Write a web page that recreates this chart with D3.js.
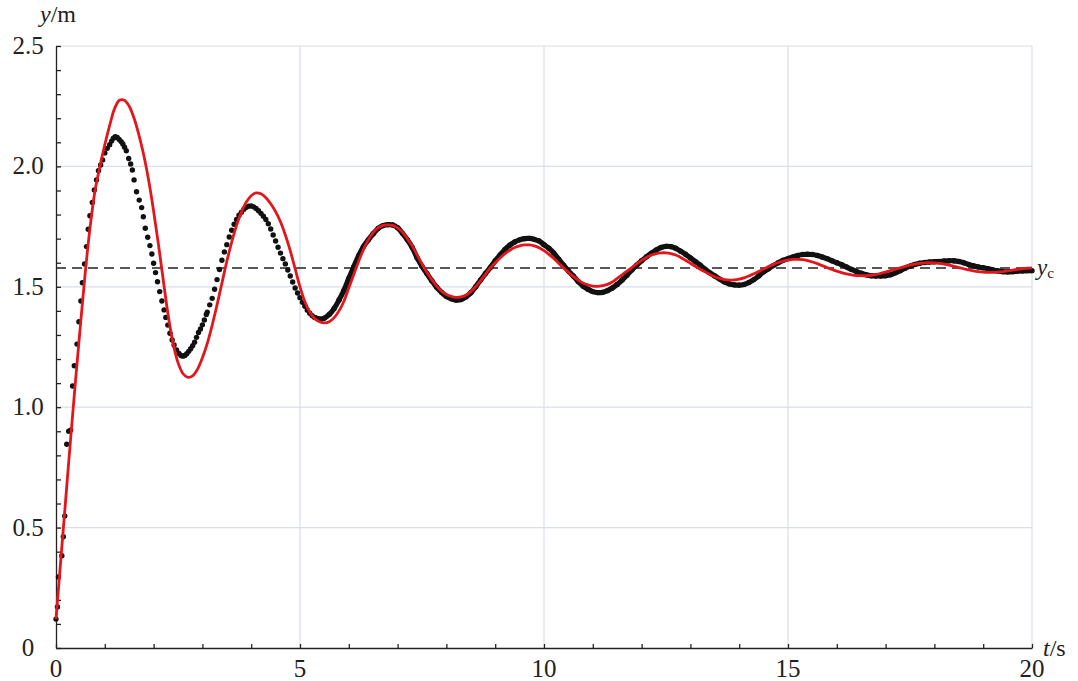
<!DOCTYPE html>
<html>
  <head>
    <meta charset="utf-8">
    <title>Damped oscillation: measured vs model</title>
    <script src="https://d3js.org/d3.v7.min.js"></script>
    <style>
      body { margin: 0; background: #fff; }
      text { font-family: "Liberation Serif", "Times New Roman", serif; fill: #222; }
      .grid line { stroke: #d9dee7; stroke-width: 1.2; }
      .axis path, .axis line { stroke: #222; stroke-width: 1.3; }
    </style>
  </head>
  <body>
    <div id="chart"></div>
    <script>
      // tick labels
      var xTickLabels = [0, 5, 10, 15, 20];
      var yTickLabels = ["0", "0.5", "1.0", "1.5", "2.0", "2.5"];
      var yTickValues = [0, 0.5, 1.0, 1.5, 2.0, 2.5];

      // equilibrium level y_c
      var yc = 1.578;

      // measured points, sparse part (time in s, height in m)
      var dotTimes = [0.00, 0.03, 0.05, 0.12, 0.15, 0.18, 0.22, 0.26, 0.30, 0.34, 0.375, 0.43, 0.47, 0.51,
        0.54, 0.585, 0.625, 0.66, 0.695, 0.745, 0.785, 0.83, 0.87, 0.915, 0.955, 1.0, 1.05, 1.10, 1.14,
        1.175, 1.215, 1.255, 1.295, 1.335, 1.37, 1.405, 1.44, 1.49, 1.53, 1.565, 1.60, 1.65, 1.705, 1.755,
        1.79, 1.83, 1.88, 1.925, 1.965, 2.0, 2.04, 2.08, 2.125, 2.17, 2.215, 2.25, 2.29, 2.335, 2.38, 2.42,
        2.47, 2.52, 2.56, 2.60, 2.64, 2.68, 2.72, 2.76, 2.80, 2.84, 2.88, 2.92, 2.96, 3.0, 3.04, 3.08,
        3.10, 3.15, 3.20, 3.25, 3.30, 3.35, 3.40, 3.45, 3.50, 3.55, 3.60, 3.65, 3.70, 3.75, 3.80, 3.85,
        3.90, 3.95, 4.00, 4.05, 4.10, 4.15, 4.20, 4.25, 4.30, 4.35, 4.40, 4.45, 4.50, 4.55, 4.60, 4.65,
        4.70, 4.75, 4.80, 4.85, 4.90, 4.95, 5.00, 5.05, 5.10, 5.15, 5.20, 5.25];
      var dotValues = [0.12, 0.17, 0.295, 0.383, 0.462, 0.548, 0.846, 0.90, 0.905, 1.088, 1.172, 1.262, 1.355, 1.441,
        1.517, 1.595, 1.667, 1.739, 1.795, 1.85, 1.902, 1.944, 1.982, 2.006, 2.027, 2.056, 2.075, 2.09, 2.105,
        2.117, 2.123, 2.12, 2.112, 2.103, 2.093, 2.08, 2.065, 2.033, 2.01, 1.985, 1.944, 1.895, 1.86, 1.829,
        1.791, 1.743, 1.706, 1.671, 1.636, 1.598, 1.559, 1.521, 1.48, 1.441, 1.404, 1.373, 1.341, 1.307, 1.279, 1.258,
        1.238, 1.223, 1.215, 1.212, 1.215, 1.222, 1.232, 1.243, 1.255, 1.27, 1.29, 1.31, 1.325, 1.342, 1.362, 1.385,
        1.395, 1.425, 1.452, 1.49, 1.53, 1.572, 1.61, 1.645, 1.675, 1.707, 1.735, 1.76, 1.78, 1.797, 1.81, 1.822,
        1.83, 1.835, 1.836, 1.832, 1.825, 1.816, 1.805, 1.793, 1.78, 1.762, 1.74, 1.715, 1.69, 1.664, 1.64, 1.617,
        1.595, 1.57, 1.545, 1.52, 1.495, 1.474, 1.455, 1.436, 1.419, 1.403, 1.39, 1.38];

      // measured points, dense part: from 5.3 s every 0.1 s
      var trackStart = 5.3, trackStep = 0.1;
      var trackValues = [1.373, 1.366, 1.37, 1.385, 1.41, 1.445, 1.485, 1.535, 1.582, 1.628, 1.667,
        1.695, 1.72, 1.742, 1.754, 1.758, 1.757, 1.745, 1.722, 1.695, 1.663, 1.62, 1.585, 1.555, 1.525,
        1.498, 1.477, 1.46, 1.45, 1.445, 1.447, 1.458, 1.475, 1.5, 1.528, 1.555, 1.58, 1.608, 1.632,
        1.655, 1.673, 1.686, 1.695, 1.7, 1.701, 1.697, 1.69, 1.675, 1.66, 1.64, 1.615, 1.59, 1.566,
        1.545, 1.522, 1.503, 1.49, 1.48, 1.476, 1.477, 1.484, 1.495, 1.51, 1.528, 1.548, 1.57, 1.59,
        1.608, 1.625, 1.64, 1.653, 1.663, 1.668, 1.667, 1.66, 1.648, 1.635, 1.62, 1.605, 1.59, 1.573,
        1.558, 1.545, 1.532, 1.52, 1.512, 1.508, 1.507, 1.51, 1.518, 1.53, 1.545, 1.562, 1.575, 1.588,
        1.6, 1.61, 1.617, 1.624, 1.63, 1.634, 1.635, 1.634, 1.63, 1.624, 1.617, 1.608, 1.6, 1.592,
        1.582, 1.572, 1.564, 1.556, 1.55, 1.546, 1.545, 1.545, 1.546, 1.55, 1.558, 1.567, 1.577, 1.586,
        1.593, 1.598, 1.601, 1.603, 1.604, 1.605, 1.607, 1.608, 1.608, 1.605, 1.6, 1.593, 1.587, 1.582,
        1.579, 1.575, 1.57, 1.566, 1.563, 1.562, 1.563, 1.565, 1.566, 1.567, 1.567];

      // model curve: from 0 s every 0.1 s
      var modelStep = 0.1;
      var modelValues = [0.12, 0.37, 0.62, 0.87, 1.11, 1.34, 1.56, 1.75, 1.90, 2.00, 2.09, 2.17, 2.24,
        2.275, 2.275, 2.25, 2.20, 2.13, 2.045, 1.94, 1.815, 1.675, 1.525, 1.38, 1.265, 1.185, 1.14, 1.124,
        1.13, 1.158, 1.205, 1.265, 1.34, 1.425, 1.515, 1.605, 1.685, 1.755, 1.81, 1.852, 1.878, 1.89, 1.886,
        1.87, 1.845, 1.812, 1.77, 1.715, 1.65, 1.575, 1.5, 1.438, 1.395, 1.368, 1.355, 1.35, 1.355,
        1.372, 1.40, 1.44, 1.495, 1.55, 1.605, 1.655, 1.695, 1.725, 1.745, 1.755, 1.757, 1.755, 1.745,
        1.727, 1.70, 1.67, 1.632, 1.595, 1.56, 1.53, 1.503, 1.482, 1.468, 1.46, 1.456, 1.458, 1.465,
        1.48, 1.50, 1.525, 1.552, 1.578, 1.60, 1.62, 1.638, 1.652, 1.663, 1.67, 1.674, 1.674, 1.67,
        1.662, 1.65, 1.635, 1.618, 1.598, 1.578, 1.56, 1.543, 1.528, 1.516, 1.508, 1.503, 1.502, 1.505,
        1.51, 1.52, 1.535, 1.55, 1.565, 1.58, 1.595, 1.61, 1.622, 1.632, 1.638, 1.641, 1.641, 1.638,
        1.632, 1.622, 1.61, 1.598, 1.585, 1.573, 1.562, 1.551, 1.542, 1.535, 1.53, 1.528, 1.529, 1.532,
        1.537, 1.545, 1.554, 1.564, 1.574, 1.584, 1.593, 1.601, 1.607, 1.611, 1.614, 1.614, 1.613,
        1.609, 1.603, 1.596, 1.588, 1.58, 1.572, 1.565, 1.559, 1.554, 1.55, 1.547, 1.546, 1.546, 1.548,
        1.551, 1.556, 1.561, 1.567, 1.573, 1.579, 1.585, 1.59, 1.594, 1.597, 1.599, 1.6, 1.599, 1.597,
        1.594, 1.59, 1.585, 1.58, 1.575, 1.57, 1.566, 1.563, 1.561, 1.56, 1.56, 1.561, 1.563, 1.566,
        1.569, 1.572, 1.575, 1.577, 1.579];

      var width = 1078, height = 681;
      var x = d3.scaleLinear().domain([0, 20]).range([56, 1032]);
      var y = d3.scaleLinear().domain([0, 2.5]).range([648, 46]);

      var svg = d3.select("#chart").append("svg")
        .attr("width", width)
        .attr("height", height);

      // grid lines
      var grid = svg.append("g").attr("class", "grid");
      grid.selectAll("line.h")
        .data(yTickValues.slice(1))
        .enter().append("line")
        .attr("x1", x(0)).attr("x2", x(20))
        .attr("y1", d => y(d)).attr("y2", d => y(d));
      grid.selectAll("line.v")
        .data(xTickLabels.slice(1))
        .enter().append("line")
        .attr("x1", d => x(d)).attr("x2", d => x(d))
        .attr("y1", y(0)).attr("y2", y(2.5));

      // axes with inward ticks
      svg.append("g").attr("class", "axis")
        .attr("transform", "translate(" + x(0) + ",0)")
        .call(d3.axisRight(y).tickValues(d3.range(0, 26).map(i => i / 10))
          .tickSize(5).tickSizeOuter(0).tickFormat(""));
      svg.append("g").attr("class", "axis")
        .attr("transform", "translate(0," + y(0) + ")")
        .call(d3.axisTop(x).tickValues(d3.range(0, 21))
          .tickSize(4).tickSizeOuter(0).tickFormat(""));

      // tick labels
      svg.selectAll("text.ylab")
        .data(yTickValues)
        .enter().append("text")
        .attr("x", 28)
        .attr("y", d => y(d) + 8)
        .attr("text-anchor", "middle")
        .style("font-size", "25px")
        .text((d, i) => yTickLabels[i]);
      svg.selectAll("text.xlab")
        .data(xTickLabels)
        .enter().append("text")
        .attr("x", d => x(d))
        .attr("y", 677)
        .attr("text-anchor", "middle")
        .style("font-size", "25px")
        .text(d => d);

      // axis titles
      var yt = svg.append("text").attr("x", 40).attr("y", 22).style("font-size", "24px");
      yt.append("tspan").style("font-style", "italic").text("y");
      yt.append("tspan").text("/m");
      var xt = svg.append("text").attr("x", 1043).attr("y", 656).style("font-size", "24px");
      xt.append("tspan").style("font-style", "italic").text("t");
      xt.append("tspan").text("/s");
      var yct = svg.append("text").attr("x", 1037).attr("y", 275).style("font-size", "23px");
      yct.append("tspan").style("font-style", "italic").text("y");
      yct.append("tspan").attr("dy", 3).style("font-size", "15px").text("c");

      // dashed equilibrium line
      svg.append("line")
        .attr("x1", x(0)).attr("x2", x(20))
        .attr("y1", y(yc)).attr("y2", y(yc))
        .attr("stroke", "#222")
        .attr("stroke-width", 1.4)
        .attr("stroke-dasharray", "10,6");

      // measured data
      var track = trackValues.map((v, i) => [trackStart + i * trackStep, v]);
      svg.append("path")
        .datum(track)
        .attr("fill", "none")
        .attr("stroke", "#111")
        .attr("stroke-width", 5.2)
        .attr("stroke-linejoin", "round")
        .attr("d", d3.line().x(d => x(d[0])).y(d => y(d[1])).curve(d3.curveCatmullRom));
      var dots = dotTimes.map((t, i) => [t, dotValues[i]]).concat(track);
      svg.append("g").selectAll("circle")
        .data(dots)
        .enter().append("circle")
        .attr("cx", d => x(d[0]))
        .attr("cy", d => y(d[1]))
        .attr("r", 2.7)
        .attr("fill", "#111");

      // model curve
      var model = modelValues.map((v, i) => [i * modelStep, v]);
      svg.append("path")
        .datum(model)
        .attr("fill", "none")
        .attr("stroke", "#e3161c")
        .attr("stroke-width", 2.8)
        .attr("d", d3.line().x(d => x(d[0])).y(d => y(d[1])).curve(d3.curveCatmullRom));
    </script>
  </body>
</html>
